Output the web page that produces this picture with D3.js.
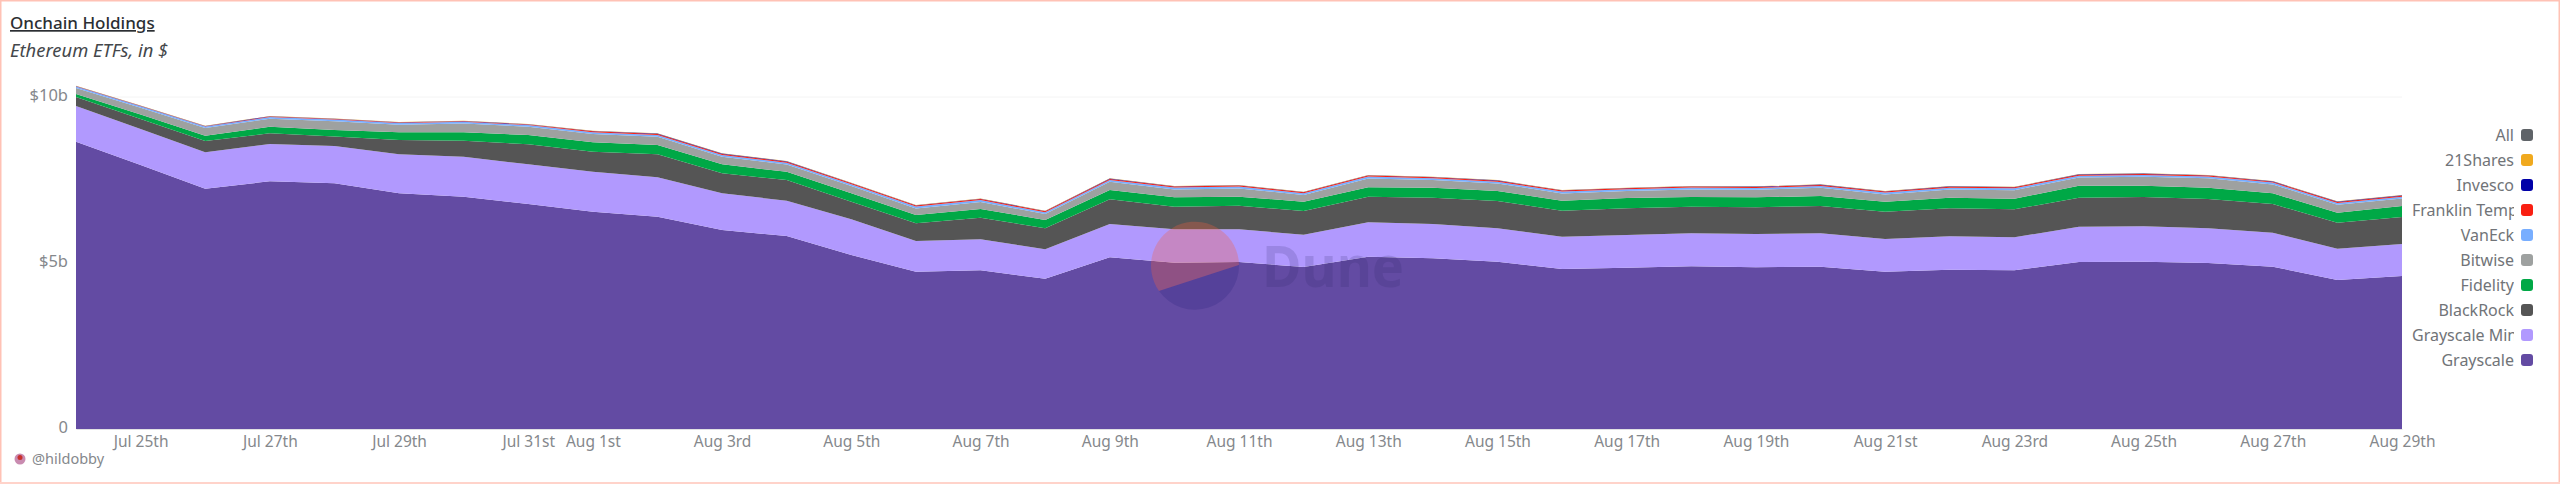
<!DOCTYPE html>
<html>
<head>
<meta charset="utf-8">
<script src="https://cdn.jsdelivr.net/npm/d3@7"></script>
<style>
html, body { margin: 0; background: #fff; }
svg { display: block; }
text { font-family: "Noto Sans", sans-serif; }
</style>
</head>
<body>
<div id="chartContainer"></div>
<script>
// daily dates, Jul 24th to Aug 29th
var dates = ["2024-07-24","2024-07-25","2024-07-26","2024-07-27","2024-07-28","2024-07-29","2024-07-30","2024-07-31",
  "2024-08-01","2024-08-02","2024-08-03","2024-08-04","2024-08-05","2024-08-06","2024-08-07","2024-08-08","2024-08-09",
  "2024-08-10","2024-08-11","2024-08-12","2024-08-13","2024-08-14","2024-08-15","2024-08-16","2024-08-17","2024-08-18",
  "2024-08-19","2024-08-20","2024-08-21","2024-08-22","2024-08-23","2024-08-24","2024-08-25","2024-08-26","2024-08-27",
  "2024-08-28","2024-08-29"];

// all values in $b, bottom of the stack first
var grayscale = [8.654,7.952,7.238,7.461,7.401,7.099,6.997,6.777,6.545,6.395,5.994,5.813,5.241,4.738,4.780,4.527,5.172,
  5.009,5.030,4.880,5.190,5.142,5.039,4.819,4.858,4.901,4.870,4.889,4.738,4.798,4.780,5.030,5.039,5.000,4.889,4.488,4.608];
var grayscaleMini = [1.075,1.084,1.096,1.123,1.123,1.175,1.205,1.196,1.205,1.187,1.105,1.063,1.075,0.925,0.934,0.886,1.003,
  1.006,0.985,0.973,1.036,1.033,1.006,0.973,0.985,0.994,1.003,1.006,0.985,1.006,0.994,1.063,1.066,1.045,1.024,0.943,0.964];
var blackRock = [0.271,0.301,0.340,0.322,0.286,0.431,0.482,0.602,0.602,0.693,0.602,0.623,0.530,0.533,0.651,0.633,0.744,
  0.681,0.711,0.714,0.771,0.792,0.822,0.783,0.804,0.801,0.804,0.822,0.822,0.843,0.843,0.873,0.883,0.883,0.864,0.783,0.813];
var fidelity = [0.090,0.136,0.160,0.199,0.196,0.232,0.253,0.280,0.283,0.280,0.271,0.250,0.253,0.250,0.262,0.250,0.280,
  0.283,0.271,0.280,0.283,0.301,0.301,0.301,0.310,0.292,0.301,0.301,0.301,0.319,0.319,0.361,0.340,0.340,0.322,0.301,0.331];
var bitwise = [0.181,0.202,0.232,0.239,0.263,0.227,0.266,0.248,0.247,0.250,0.229,0.220,0.217,0.199,0.214,0.178,0.250,
  0.238,0.250,0.199,0.268,0.229,0.229,0.220,0.208,0.229,0.229,0.250,0.220,0.250,0.259,0.250,0.271,0.281,0.268,0.241,0.229];
var vanEck = [0.045,0.045,0.045,0.050,0.050,0.050,0.050,0.050,0.054,0.054,0.054,0.054,0.054,0.054,0.054,0.054,0.054,
  0.054,0.054,0.054,0.054,0.054,0.054,0.054,0.054,0.054,0.054,0.054,0.054,0.054,0.054,0.054,0.054,0.054,0.054,0.054,0.054];
var franklin = [0.006,0.006,0.006,0.015,0.015,0.015,0.015,0.015,0.030,0.030,0.030,0.030,0.030,0.030,0.030,0.030,0.030,
  0.030,0.030,0.030,0.030,0.030,0.030,0.030,0.030,0.030,0.030,0.030,0.030,0.030,0.030,0.030,0.030,0.030,0.030,0.030,0.030];
var invesco = [0.012,0.012,0.012,0.012,0.012,0.012,0.012,0.012,0.010,0.010,0.010,0.010,0.010,0.010,0.010,0.010,0.010,
  0.010,0.010,0.010,0.010,0.010,0.010,0.010,0.010,0.010,0.010,0.010,0.010,0.010,0.010,0.010,0.010,0.010,0.010,0.010,0.010];
var shares21 = [0.006,0.006,0.006,0.006,0.006,0.006,0.006,0.006,0.008,0.008,0.008,0.008,0.008,0.008,0.008,0.008,0.008,
  0.008,0.008,0.008,0.008,0.008,0.008,0.008,0.008,0.008,0.008,0.008,0.008,0.008,0.008,0.008,0.008,0.008,0.008,0.008,0.008];

var seriesNames = ["Grayscale","Grayscale Mini","BlackRock","Fidelity","Bitwise","VanEck","Franklin Templeton","Invesco","21Shares"];
var seriesValues = [grayscale, grayscaleMini, blackRock, fidelity, bitwise, vanEck, franklin, invesco, shares21];
var seriesColors = ["#634ba3","#b199fe","#555555","#00a846","#9ea1a0","#78aeff","#f91f12","#0000a8","#f0a91e"];

var legendNames = ["All","21Shares","Invesco","Franklin Templeton","VanEck","Bitwise","Fidelity","BlackRock","Grayscale Mini","Grayscale"];
var legendColors = ["#5f6368","#f0a91e","#0000a8","#f91f12","#78aeff","#9ea1a0","#00a846","#555555","#b199fe","#634ba3"];

var xTickDates = ["2024-07-25","2024-07-27","2024-07-29","2024-07-31","2024-08-01","2024-08-03","2024-08-05","2024-08-07",
  "2024-08-09","2024-08-11","2024-08-13","2024-08-15","2024-08-17","2024-08-19","2024-08-21","2024-08-23","2024-08-25",
  "2024-08-27","2024-08-29"];
var yTicks = [0, 5, 10];

var width = 2560, height = 484;
var plotLeft = 76, plotRight = 2402, plotTop = 97, plotBottom = 429;

var svg = d3.select("#chartContainer").append("svg").attr("width", width).attr("height", height);
var parse = d3.utcParse("%Y-%m-%d");

var x = d3.scaleUtc().domain([parse(dates[0]), parse(dates[dates.length - 1])]).range([plotLeft, plotRight]);
var y = d3.scaleLinear().domain([0, 10]).range([plotBottom, plotTop]);

// frame
svg.append("rect").attr("x", 0.75).attr("y", 0.75).attr("width", width - 1.5).attr("height", height - 1.5)
  .attr("fill", "none").attr("stroke", "#ffc2b5").attr("stroke-width", 1.5);
svg.append("rect").attr("x", 0).attr("y", 482).attr("width", width).attr("height", 2).attr("fill", "#ffd3ca");

// titles
svg.append("text").attr("x", 10).attr("y", 29).style("font-size", "17px").style("font-weight", 500)
  .style("text-decoration", "underline").attr("fill", "#2c2f33").text("Onchain Holdings");
svg.append("text").attr("x", 10).attr("y", 57).style("font-size", "18.4px").style("font-style", "italic")
  .attr("fill", "#44474b").text("Ethereum ETFs, in $");

// grid
svg.append("g").selectAll("line").data(yTicks.slice(1)).enter().append("line")
  .attr("x1", plotLeft).attr("x2", plotRight)
  .attr("y1", function (d) { return y(d); }).attr("y2", function (d) { return y(d); })
  .attr("stroke", "#f4f4f4");

// stacked areas
var rows = dates.map(function (d, i) {
  var row = { date: parse(d) };
  seriesNames.forEach(function (n, s) { row[n] = seriesValues[s][i]; });
  return row;
});
var stack = d3.stack().keys(seriesNames);
var area = d3.area()
  .x(function (d) { return x(d.data.date); })
  .y0(function (d) { return y(d[0]); })
  .y1(function (d) { return y(d[1]); });

svg.append("g").selectAll("path").data(stack(rows)).enter().append("path")
  .attr("d", area)
  .attr("fill", function (d, i) { return seriesColors[i]; });

// axes
var yAxis = d3.axisLeft(y).tickValues(yTicks).tickSize(0).tickPadding(8)
  .tickFormat(function (d) { return d === 0 ? "0" : "$" + d + "b"; });
var yG = svg.append("g").attr("transform", "translate(" + plotLeft + ",-1.5)").call(yAxis);
yG.select(".domain").remove();
yG.selectAll("text").style("font-size", "16.5px").attr("fill", "#85888c");

function ordinal(n) {
  if (n % 10 === 1 && n !== 11) return n + "st";
  if (n % 10 === 2 && n !== 12) return n + "nd";
  if (n % 10 === 3 && n !== 13) return n + "rd";
  return n + "th";
}
var xAxis = d3.axisBottom(x).tickValues(xTickDates.map(parse)).tickSize(0).tickPadding(7)
  .tickFormat(function (d) { return d3.utcFormat("%b ")(d) + ordinal(d.getUTCDate()); });
var xG = svg.append("g").attr("transform", "translate(0," + plotBottom + ")").call(xAxis);
xG.select(".domain").attr("stroke", "#e1e1e3");
xG.selectAll("text").style("font-size", "15.5px").attr("fill", "#85888c");

// legend, long names get cut off like the original
svg.append("clipPath").attr("id", "legendClip").append("rect")
  .attr("x", 2412).attr("y", -15).attr("width", 102).attr("height", 30);
var legend = svg.append("g").selectAll("g").data(legendNames).enter().append("g")
  .attr("transform", function (d, i) { return "translate(0," + (135 + i * 25) + ")"; });
legend.append("rect").attr("x", 2521).attr("y", -6).attr("width", 12).attr("height", 12).attr("rx", 3)
  .attr("fill", function (d, i) { return legendColors[i]; });
var legendText = legend.append("text").attr("clip-path", "url(#legendClip)")
  .attr("dy", "0.35em").style("font-size", "16px").attr("fill", "#717478")
  .text(function (d) { return d; });
legendText.each(function () {
  var t = d3.select(this);
  if (this.getComputedTextLength() > 102) t.attr("x", 2412);
  else t.attr("x", 2514).attr("text-anchor", "end");
});

// watermark
var mark = svg.append("g");
mark.append("path").attr("d", "M1159,291 A44,44 0 1 1 1239,265 Z").attr("fill", "#f4603e").attr("opacity", 0.3);
mark.append("path").attr("d", "M1239,265 A44,44 0 0 1 1159,291 Z").attr("fill", "#2a2480").attr("opacity", 0.25);
mark.append("text").attr("x", 1262).attr("y", 287).attr("textLength", 142).attr("lengthAdjust", "spacingAndGlyphs")
  .style("font-size", "58px").style("font-weight", 700)
  .attr("fill", "#2a2460").attr("opacity", 0.16).text("Dune");

// footer
svg.append("circle").attr("cx", 20).attr("cy", 459).attr("r", 5.5).attr("fill", "#c98bb0");
svg.append("circle").attr("cx", 20).attr("cy", 457.5).attr("r", 2.5).attr("fill", "#c9302c");
svg.append("text").attr("x", 32).attr("y", 464).style("font-size", "14.5px").attr("fill", "#85888c").text("@hildobby");
</script>
</body>
</html>
